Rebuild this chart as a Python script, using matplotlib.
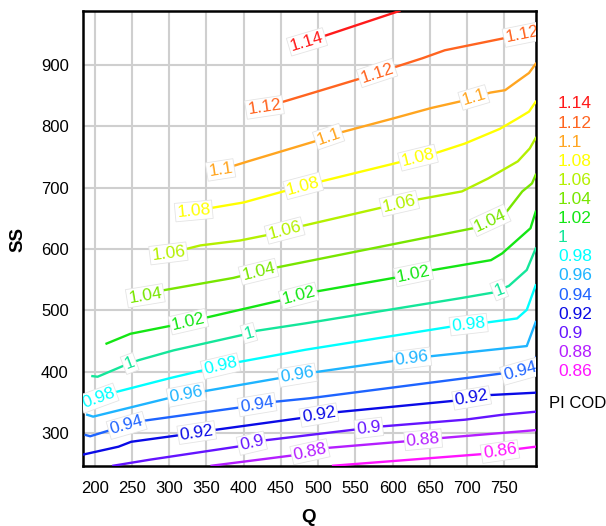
import numpy as np
import matplotlib
matplotlib.use('Agg')
import matplotlib.pyplot as plt

plt.rcParams['font.family'] = ['Liberation Sans', 'DejaVu Sans']

### contour levels (top to bottom) and their colours
level_names = ['1.14', '1.12', '1.1', '1.08', '1.06', '1.04', '1.02', '1',
               '0.98', '0.96', '0.94', '0.92', '0.9', '0.88', '0.86']
colors = ['#ff1a1a', '#ff6420', '#ffa520', '#ffff00', '#b4f000', '#78e600',
          '#14e614', '#14e69a', '#00ffff', '#1eb4ff', '#1e64ff', '#0a0ae6',
          '#6414ff', '#b41eff', '#ff14ff']

### contour lines (Q, SS)
q_114 = [476, 505, 609]
ss_114 = [934, 946, 988]
q_112 = [428, 483, 554, 599, 640, 670, 751, 792]
ss_112 = [831, 851, 877, 895, 911, 924, 944, 954]
q_110 = [369, 406, 494, 530, 601, 652, 692, 731, 751, 768, 783, 792]
ss_110 = [729, 743, 775, 790, 813, 830, 841, 855, 859, 874, 887, 902]
q_108 = [332, 400, 480, 503, 614, 654, 697, 744, 768, 783, 792]
ss_108 = [662, 676, 703, 710, 743, 755, 772, 796, 813, 824, 840]
q_106 = [299, 342, 395, 432, 476, 590, 630, 693, 728, 768, 784, 792]
ss_106 = [593, 606, 614, 623, 637, 669, 680, 694, 715, 743, 764, 781]
q_104 = [268, 288, 386, 440, 708, 751, 774, 787, 792]
ss_104 = [524, 532, 553, 569, 634, 658, 694, 707, 721]
q_102 = [216, 248, 302, 452, 493, 606, 650, 732, 747, 785, 792]
ss_102 = [446, 462, 475, 517, 530, 554, 565, 582, 593, 634, 661]
q_100 = [197, 204, 237, 259, 306, 398, 418, 483, 691, 734, 756, 780, 792]
ss_100 = [393, 392, 409, 419, 435, 460, 467, 479, 520, 529, 540, 566, 601]
q_098 = [189, 225, 302, 389, 483, 680, 724, 767, 780, 792]
ss_098 = [350, 366, 390, 415, 436, 474, 480, 487, 501, 541]
q_096 = [190, 198, 302, 345, 449, 499, 603, 648, 780, 792]
ss_096 = [330, 327, 358, 368, 390, 400, 418, 425, 442, 481]
q_094 = [188, 194, 221, 264, 395, 440, 489, 751, 780, 792]
ss_094 = [297, 295, 305, 320, 342, 351, 357, 398, 402, 423]
q_092 = [184, 232, 249, 315, 359, 479, 523, 684, 728, 792]
ss_092 = [265, 278, 286, 297, 305, 325, 334, 353, 362, 366]
q_090 = [225, 275, 391, 426, 550, 585, 697, 747, 792]
ss_090 = [247, 257, 278, 288, 306, 311, 322, 330, 335]
q_088 = [357, 467, 512, 620, 664, 792]
ss_088 = [247, 264, 276, 287, 292, 305]
q_086 = [520, 721, 766, 792]
ss_086 = [247, 266, 274, 278]

### Q positions of the inline labels
lab_114 = [485]
lab_112 = [428, 579, 774]
lab_110 = [369, 514, 709]
lab_108 = [333, 480, 634]
lab_106 = [299, 455, 609]
lab_104 = [268, 420, 731]
lab_102 = [326, 474, 628]
lab_100 = [247, 407, 743]
lab_098 = [205, 369, 702]
lab_096 = [323, 472, 626]
lab_094 = [243, 418, 771]
lab_092 = [337, 501, 706]
lab_090 = [411, 568]
lab_088 = [489, 641]
lab_086 = [744]

lines_q = [q_114, q_112, q_110, q_108, q_106, q_104, q_102, q_100,
           q_098, q_096, q_094, q_092, q_090, q_088, q_086]
lines_ss = [ss_114, ss_112, ss_110, ss_108, ss_106, ss_104, ss_102, ss_100,
            ss_098, ss_096, ss_094, ss_092, ss_090, ss_088, ss_086]
labels_q = [lab_114, lab_112, lab_110, lab_108, lab_106, lab_104, lab_102,
            lab_100, lab_098, lab_096, lab_094, lab_092, lab_090, lab_088,
            lab_086]

x_ticks = list(range(200, 751, 50))
y_ticks = list(range(300, 901, 100))

fig = plt.figure(figsize=(6.06, 5.26), dpi=100)
ax = fig.add_axes([0.1365, 0.1146, 0.7475, 0.8645])
ax.set_xlim(184, 792)
ax.set_ylim(247, 988)
ax.set_xticks(x_ticks)
ax.set_yticks(y_ticks)
ax.grid(True, color='#cfcfcf', lw=1.5)
ax.set_axisbelow(True)
ax.tick_params(length=0, labelsize=12, pad=11)
ax.tick_params(axis='y', pad=10)
for sp in ax.spines.values():
    sp.set_linewidth(1.8)
    sp.set_color('black')

def label_angle(q, ss, q0, d=12):
    'local slope of a polyline in display space'
    p1 = ax.transData.transform((q0 - d, np.interp(q0 - d, q, ss)))
    p2 = ax.transData.transform((q0 + d, np.interp(q0 + d, q, ss)))
    return np.degrees(np.arctan2(p2[1] - p1[1], p2[0] - p1[0]))

for name, col, q, ss, lq in zip(level_names, colors, lines_q, lines_ss, labels_q):
    ax.plot(q, ss, color=col, lw=1.7, solid_joinstyle='round', zorder=3)
    for q0 in lq:
        s0 = np.interp(q0, q, ss)
        ang = label_angle(q, ss, q0)
        ax.text(q0, s0, name, color=col, fontsize=12.5, rotation=ang,
                rotation_mode='anchor', ha='center', va='center',
                zorder=4, clip_on=True,
                bbox=dict(boxstyle='square,pad=0.1', fc='white',
                          ec='#e4e4e4', lw=0.6))

### legend of levels on the right
for i, (name, col) in enumerate(zip(level_names, colors)):
    y = 1 - (104 + i * 19.1) / 526
    fig.text(558 / 606, y, name, color=col, fontsize=12.5, va='center', ha='left')
fig.text(549 / 606, 1 - 403 / 526, 'PI COD', color='black', fontsize=12,
         va='center', ha='left')

fig.text(309 / 606, 1 - 517 / 526, 'Q', fontsize=13.5, fontweight='bold',
         ha='center', va='center')
fig.text(18 / 606, 1 - 240 / 526, 'SS', fontsize=13.5, fontweight='bold',
         ha='center', va='center', rotation=90)

plt.savefig('out.png', dpi=100)
